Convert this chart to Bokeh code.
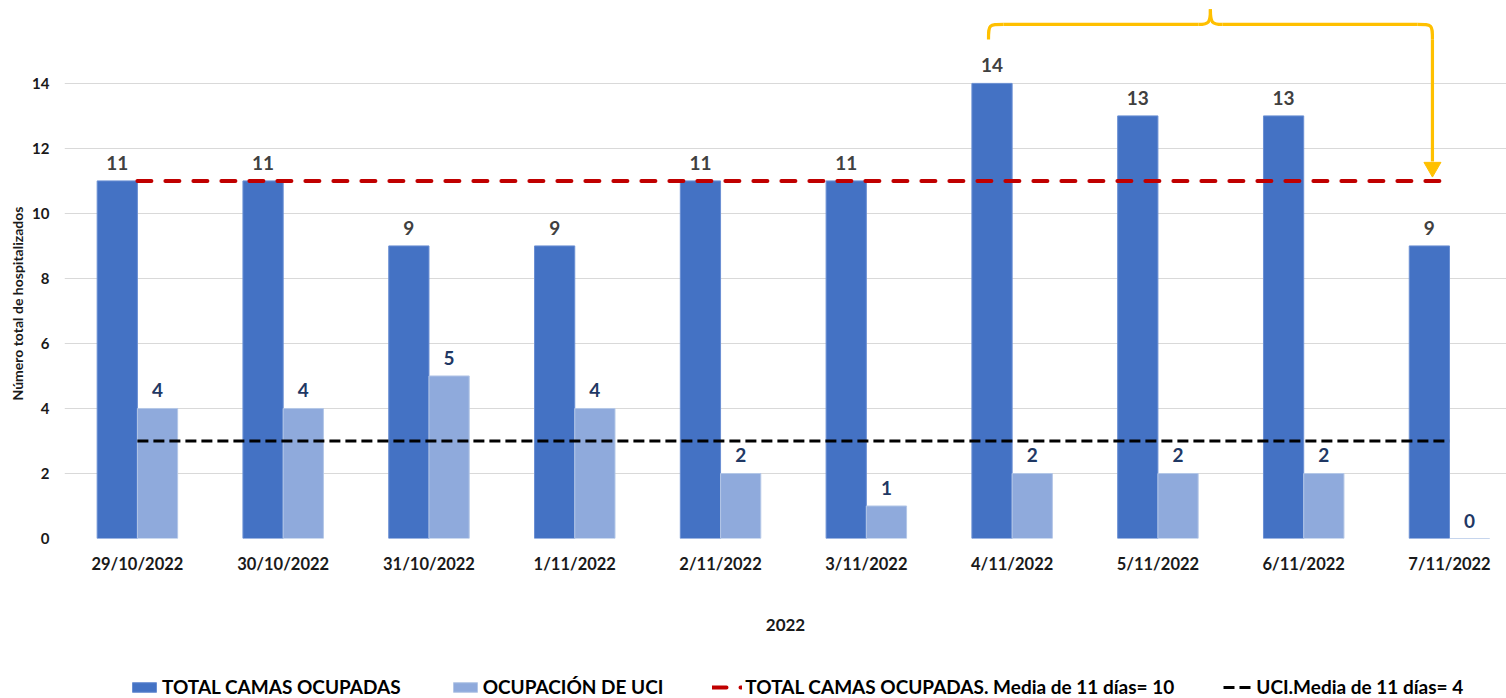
from bokeh.plotting import figure
from bokeh.layouts import column
from bokeh.models import Range1d, FixedTicker, Legend, LegendItem, Title
from bokeh.core.properties import value
from bokeh.embed import file_html
from bokeh.resources import INLINE

# ---- data ----
fechas = ["29/10/2022", "30/10/2022", "31/10/2022", "1/11/2022", "2/11/2022",
          "3/11/2022", "4/11/2022", "5/11/2022", "6/11/2022", "7/11/2022"]
total_camas = [11, 11, 9, 9, 11, 11, 14, 13, 13, 9]
ocupacion_uci = [4, 4, 5, 4, 2, 1, 2, 2, 2, 0]
media_total = [11, 11, 11, 11, 11, 11, 11, 11, 11, 11]
media_uci = [3, 3, 3, 3, 3, 3, 3, 3, 3, 3]
y_ticks = [0, 2, 4, 6, 8, 10, 12, 14]
legend_labels = ["TOTAL CAMAS OCUPADAS", "OCUPACIÓN DE UCI",
                 "TOTAL CAMAS OCUPADAS. Media de 11 días= 10",
                 "UCI.Media de 11 días= 4"]
x_title = "2022"
y_title = "Número total de hospitalizados"

# ---- styles ----
C_TOTAL, C_UCI = "#4472C4", "#8FAADC"
C_MT, C_MU = "#C00000", "black"
FONT = value("Lato")
MT_STYLE = dict(line_color=C_MT, line_width=4, line_dash="14 14", line_cap="round")
MU_STYLE = dict(line_color=C_MU, line_width=3, line_dash="11 5")

x = list(range(len(fechas)))
bw = 0.276
x_total = [i - bw / 2 for i in x]
x_uci = [i + bw / 2 for i in x]

p = figure(width=1506, height=676, x_range=Range1d(-0.5, 9.391), y_range=Range1d(0, 16.55),
           output_backend="svg", toolbar_location=None,
           min_border_left=64, min_border_right=0, min_border_top=0, min_border_bottom=138)
p.outline_line_color = None

p.vbar(x=x_total, top=total_camas, width=bw, fill_color=C_TOTAL,
       line_color="#6A8FD3", line_width=1)
p.vbar(x=x_uci, top=ocupacion_uci, width=bw, fill_color=C_UCI,
       line_color="#B4C7E7", line_width=1)
p.line(x=x, y=media_total, **MT_STYLE)
p.line(x=x, y=media_uci, **MU_STYLE)

p.text(x=x_total, y=total_camas, text=[str(v) for v in total_camas], y_offset=-11,
       text_align="center", text_baseline="bottom", text_font=FONT,
       text_font_style="bold", text_font_size="19px", text_color="#404040")
p.text(x=x_uci, y=ocupacion_uci, text=[str(v) for v in ocupacion_uci], y_offset=-11,
       text_align="center", text_baseline="bottom", text_font=FONT,
       text_font_style="bold", text_font_size="19px", text_color="#1F3864")

# ---- bracket annotation (yellow) ----
yc = "#FFC000"
xl, xr, xm = 5.838, 8.883, 7.360
yh, yp, ye = 15.815, 16.28, 15.35
dx, dy, hw = 0.103, 0.46, 0.082
p.bezier(x0=[xl, xm - hw, xm, xr - dx],
         y0=[ye, yh, yp, yh],
         x1=[xl + dx, xm, xm + hw, xr],
         y1=[yh, yp, yh, yh - dy],
         cx0=[xl, xm - 0.01, xm, xr],
         cy0=[yh, yh, yh + 0.05, yh],
         cx1=[xl, xm, xm + 0.01, xr],
         cy1=[yh, yh + 0.05, yh, yh],
         line_color=yc, line_width=3.2)
p.segment(x0=[xl + dx, xm + hw, xr], y0=[yh, yh, yh - dy],
          x1=[xm - hw, xr - dx, xr], y1=[yh, yh, 11.6],
          line_color=yc, line_width=3.2)
p.scatter(x=[xr], y=[11.42], marker="inverted_triangle", size=17,
          fill_color=yc, line_color=yc)

# ---- axes ----
p.xgrid.visible = False
p.ygrid.grid_line_color = "#D9D9D9"
p.ygrid.grid_line_width = 1

p.xaxis.ticker = FixedTicker(ticks=x)
p.xaxis.major_label_overrides = {i: f for i, f in enumerate(fechas)}
p.yaxis.ticker = FixedTicker(ticks=y_ticks)
for ax in (p.xaxis[0], p.yaxis[0]):
    ax.axis_line_color = None
    ax.major_tick_line_color = None
    ax.minor_tick_line_color = None
    ax.major_label_text_font = "Lato"
    ax.major_label_text_font_style = "bold"
    ax.major_label_text_color = "#1a1a1a"
    ax.axis_label_text_font = "Lato"
    ax.axis_label_text_font_style = "bold"
    ax.axis_label_text_color = "#1a1a1a"
p.xaxis.major_label_text_font_size = "16.5px"
p.xaxis.major_label_standoff = 9
p.yaxis.major_label_text_font_size = "15px"
p.yaxis.major_label_standoff = 9

p.xaxis.axis_label = x_title
p.xaxis.axis_label_text_font_size = "17px"
p.xaxis.axis_label_standoff = 42

p.add_layout(Title(text=y_title, align="left", offset=138, text_font="Lato",
                   text_font_style="bold", text_font_size="14px",
                   text_color="#1a1a1a", standoff=8), "left")

# ---- legend (separate strip below the chart) ----
q = figure(width=1506, height=22, x_range=Range1d(0, 1), y_range=Range1d(0, 1),
           output_backend="svg", toolbar_location=None,
           min_border_left=0, min_border_right=0, min_border_top=0, min_border_bottom=0)
q.axis.visible = False
q.grid.visible = False
q.outline_line_color = None
# legend-only renderers, placed outside the visible range of this strip
l1 = q.vbar(x=[5], top=[1], width=0.1, fill_color=C_TOTAL, line_color="#6A8FD3")
l2 = q.vbar(x=[5], top=[1], width=0.1, fill_color=C_UCI, line_color="#B4C7E7")
l3 = q.line(x=[5, 6], y=[5, 5], **MT_STYLE)
l4 = q.line(x=[5, 6], y=[5, 5], **MU_STYLE)
legend = Legend(items=[
    LegendItem(label=legend_labels[0], renderers=[l1]),
    LegendItem(label=legend_labels[1], renderers=[l2]),
    LegendItem(label=legend_labels[2], renderers=[l3]),
    LegendItem(label=legend_labels[3], renderers=[l4]),
], orientation="horizontal", location=(65, 0))
legend.label_text_font = "Lato"
legend.label_text_font_style = "bold"
legend.label_text_font_size = "19px"
legend.label_text_color = "black"
legend.glyph_width = 30
legend.glyph_height = 12
legend.label_height = 20
legend.spacing = 49
legend.label_standoff = 3
legend.border_line_color = None
legend.background_fill_alpha = 0
legend.padding = 0
legend.margin = 0
q.add_layout(legend, "center")

open("out.html", "w").write(file_html(column(p, q, spacing=0), INLINE))
